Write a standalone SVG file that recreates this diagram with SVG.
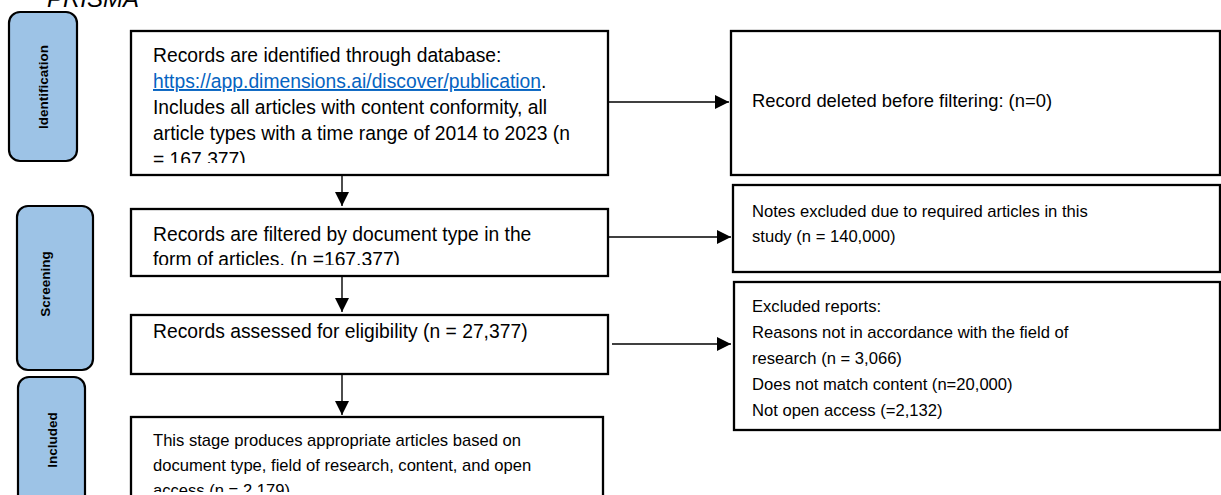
<svg xmlns="http://www.w3.org/2000/svg" width="1221" height="495" viewBox="0 0 1221 495">
  <style>
    .pill { fill: #9DC3E6; stroke: #000; stroke-width: 2.2; }
    .box { fill: #fff; stroke: #000; stroke-width: 2.3; }
    .lbl { font-family: "Liberation Sans", Arial, sans-serif; font-weight: bold; font-size: 13.5px; fill: #000; }
    .t19 { font-family: "Liberation Sans", Arial, sans-serif; font-size: 19.3px; fill: #000; }
    .t18 { font-family: "Liberation Sans", Arial, sans-serif; font-size: 18.4px; fill: #000; }
    .t17 { font-family: "Liberation Sans", Arial, sans-serif; font-size: 16.6px; fill: #000; }
    .link { fill: #0563C1; text-decoration: underline; }
    .conn { stroke: #000; stroke-width: 1.4; fill: none; }
    .title { font-family: "Liberation Sans", Arial, sans-serif; font-style: italic; font-size: 24px; fill: #000; }
  </style>
  <defs>
    <marker id="arr" markerUnits="userSpaceOnUse" viewBox="0 0 14 14" refX="14" refY="7" markerWidth="14" markerHeight="14" orient="auto">
      <path d="M0,0 L14,7 L0,14 z" fill="#000"/>
    </marker>
    <clipPath id="c1"><rect x="131" y="31" width="477" height="132"/></clipPath>
    <clipPath id="c2"><rect x="131" y="209" width="477" height="56"/></clipPath>
    <clipPath id="c4"><rect x="131" y="417" width="472" height="75"/></clipPath>
  </defs>

  <text class="title" x="47" y="7">PRISMA</text>

  <g id="stage-identification">
    <rect class="pill" x="9" y="12" width="68" height="149" rx="11"/>
    <text class="lbl" transform="translate(48,87) rotate(-90)" text-anchor="middle">Identification</text>
  </g>
  <g id="stage-screening">
    <rect class="pill" x="17" y="206" width="76" height="164" rx="11"/>
    <text class="lbl" transform="translate(50,284) rotate(-90)" text-anchor="middle">Screening</text>
  </g>
  <g id="stage-included">
    <rect class="pill" x="18" y="377" width="67" height="140" rx="11"/>
    <text class="lbl" transform="translate(57,440) rotate(-90)" text-anchor="middle">Included</text>
  </g>

  <g id="node-identified">
    <rect class="box" x="131" y="31" width="477" height="144"/>
    <g clip-path="url(#c1)">
      <text class="t19" x="153" y="62">Records are identified through database:</text>
      <text class="t19" x="153" y="88"><tspan class="link">https://app.dimensions.ai/discover/publication</tspan>.</text>
      <text class="t19" x="153" y="114">Includes all articles with content conformity, all</text>
      <text class="t19" x="153" y="140">article types with a time range of 2014 to 2023 (n</text>
      <text class="t19" x="153" y="166">= 167.377)</text>
    </g>
  </g>

  <g id="node-deleted">
    <rect class="box" x="731" y="31" width="489" height="144"/>
    <text class="t18" x="752" y="107">Record deleted before filtering: (n=0)</text>
  </g>

  <g id="node-filtered">
    <rect class="box" x="131" y="209" width="477" height="67"/>
    <g clip-path="url(#c2)">
      <text class="t19" x="153" y="241">Records are filtered by document type in the</text>
      <text class="t19" x="153" y="266">form of articles. (n =167.377)</text>
    </g>
  </g>

  <g id="node-notes-excluded">
    <rect class="box" x="733" y="185" width="487" height="87"/>
    <text class="t17" x="752" y="217">Notes excluded due to required articles in this</text>
    <text class="t17" x="752" y="242">study (n = 140,000)</text>
  </g>

  <g id="node-assessed">
    <rect class="box" x="131" y="315" width="477" height="59"/>
    <text class="t19" x="153" y="338">Records assessed for eligibility (n = 27,377)</text>
  </g>

  <g id="node-excluded-reports">
    <rect class="box" x="734" y="282" width="486" height="148"/>
    <text class="t17" x="752" y="312">Excluded reports:</text>
    <text class="t17" x="752" y="338">Reasons not in accordance with the field of</text>
    <text class="t17" x="752" y="364">research (n = 3,066)</text>
    <text class="t17" x="752" y="390">Does not match content (n=20,000)</text>
    <text class="t17" x="752" y="416">Not open access (=2,132)</text>
  </g>

  <g id="node-included">
    <rect class="box" x="131" y="417" width="472" height="100"/>
    <g clip-path="url(#c4)">
      <text class="t17" x="153" y="446">This stage produces appropriate articles based on</text>
      <text class="t17" x="153" y="471">document type, field of research, content, and open</text>
      <text class="t17" x="153" y="496">access (n = 2.179)</text>
    </g>
  </g>

  <g id="connectors">
    <line class="conn" x1="342" y1="175" x2="342" y2="206" marker-end="url(#arr)"/>
    <line class="conn" x1="342" y1="276" x2="342" y2="312" marker-end="url(#arr)"/>
    <line class="conn" x1="342" y1="374" x2="342" y2="415" marker-end="url(#arr)"/>
    <line class="conn" x1="608" y1="102" x2="729" y2="102" marker-end="url(#arr)"/>
    <line class="conn" x1="608" y1="237" x2="731" y2="237" marker-end="url(#arr)"/>
    <line class="conn" x1="612" y1="344" x2="731" y2="344" marker-end="url(#arr)"/>
  </g>
</svg>
